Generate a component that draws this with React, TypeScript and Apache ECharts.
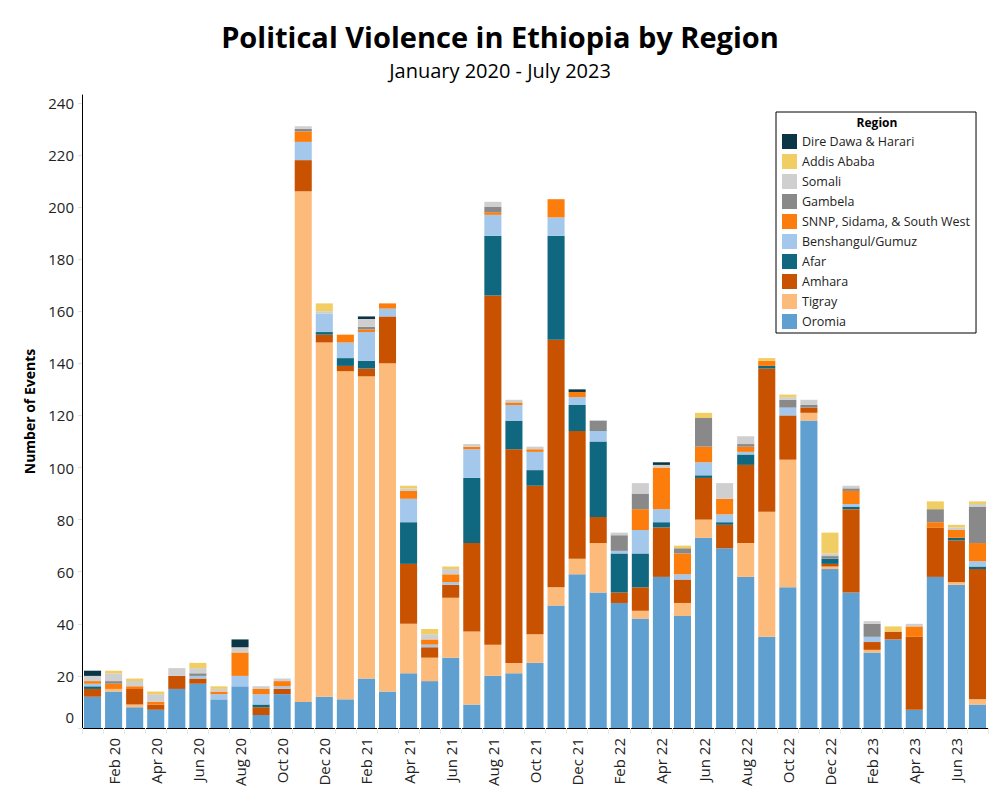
import React, { useEffect, useRef } from "react";
import * as echarts from "echarts";

const months = [
  "Jan 20","Feb 20","Mar 20","Apr 20","May 20","Jun 20","Jul 20","Aug 20","Sep 20","Oct 20","Nov 20","Dec 20",
  "Jan 21","Feb 21","Mar 21","Apr 21","May 21","Jun 21","Jul 21","Aug 21","Sep 21","Oct 21","Nov 21","Dec 21",
  "Jan 22","Feb 22","Mar 22","Apr 22","May 22","Jun 22","Jul 22","Aug 22","Sep 22","Oct 22","Nov 22","Dec 22",
  "Jan 23","Feb 23","Mar 23","Apr 23","May 23","Jun 23","Jul 23",
];

const oromia = [12,14,8,7,15,17,11,16,5,13,10,12,11,19,14,21,18,27,9,20,21,25,47,59,52,48,42,58,43,73,69,58,35,54,118,61,52,29,34,7,58,55,9];
const tigray = [0,1,1,0,0,0,0,0,0,0,196,136,126,116,126,19,9,23,28,12,4,11,7,6,19,0,3,0,5,7,0,13,48,49,3,1,0,1,0,0,0,1,2];
const amhara = [3,0,6,2,5,2,0,0,3,2,12,3,2,3,18,23,4,5,34,134,82,57,95,49,10,4,9,19,9,16,9,30,55,17,2,1,32,3,3,28,19,16,50];
const afar = [1,0,0,0,0,0,0,0,1,0,0,1,3,3,0,16,0,0,25,23,11,6,40,10,29,15,13,2,0,1,1,4,1,0,0,2,1,0,0,0,0,1,1];
const benshangul = [1,0,0,0,0,1,2,4,4,1,7,7,6,11,3,9,1,1,11,8,6,7,7,3,4,1,9,5,2,5,3,1,0,3,0,0,1,2,0,0,0,0,2];
const snnp = [1,2,1,1,0,0,1,9,2,2,4,0,3,1,2,3,2,3,1,1,1,1,7,2,0,0,8,16,8,6,6,2,2,0,0,0,5,0,0,4,2,3,7];
const gambela = [0,1,0,0,0,1,0,0,0,0,1,0,0,1,0,0,0,0,0,2,0,0,0,0,4,6,6,0,2,11,0,1,0,3,1,1,1,5,0,0,5,0,14];
const somali = [2,3,2,3,3,2,1,2,1,1,1,1,0,3,0,1,2,2,1,2,1,1,0,0,0,1,4,1,0,0,6,3,0,1,2,1,1,1,0,1,0,1,1];
const addis = [0,1,1,1,0,2,1,0,0,0,0,3,0,0,0,1,2,1,0,0,0,0,0,0,0,0,0,0,1,2,0,0,1,1,0,8,0,0,2,0,3,1,1];
const direDawa = [2,0,0,0,0,0,0,3,0,0,0,0,0,1,0,0,0,0,0,0,0,0,0,1,0,0,0,1,0,0,0,0,0,0,0,0,0,0,0,0,0,0,0];

const seriesNames = [
  "Oromia","Tigray","Amhara","Afar","Benshangul/Gumuz",
  "SNNP, Sidama, & South West","Gambela","Somali","Addis Ababa","Dire Dawa & Harari",
];
const seriesData = [oromia, tigray, amhara, afar, benshangul, snnp, gambela, somali, addis, direDawa];
const seriesColors = [
  "#5fa0d1","#fdbb7b","#c85200","#0f6880","#a3c8ec",
  "#fc7d0b","#898989","#cfcfcf","#f1ce63","#0b3546",
];

const FONT = "'Open Sans', 'Noto Sans', sans-serif";

export default function App() {
  const ref = useRef<HTMLDivElement>(null);
  useEffect(() => {
    if (!ref.current) return;
    const chart = echarts.init(ref.current, null, { renderer: "svg" });
    chart.setOption({
      animation: false,
      backgroundColor: "#ffffff",
      title: {
        text: "Political Violence in Ethiopia by Region",
        subtext: "January 2020 - July 2023",
        left: "center",
        top: 17,
        itemGap: 9,
        textStyle: { fontFamily: FONT, fontSize: 29, fontWeight: "bold", color: "#000" },
        subtextStyle: { fontFamily: FONT, fontSize: 20, color: "#000" },
      },
      legend: {
        orient: "vertical",
        left: 776,
        top: 112,
        data: [...seriesNames].reverse(),
        icon: "rect",
        itemWidth: 15,
        itemHeight: 15,
        itemGap: 5,
        borderColor: "#000",
        borderWidth: 1,
        padding: [22, 6, 4, 6],
        textStyle: { fontFamily: FONT, fontSize: 12.5, color: "#222" },
      },
      graphic: [
        {
          type: "text",
          x: 877,
          y: 122,
          style: {
            text: "Region",
            fontFamily: FONT,
            fontSize: 12,
            fontWeight: "bold",
            fill: "#000",
            textAlign: "center",
            textVerticalAlign: "middle",
          },
        },
      ],
      grid: { left: 82, right: 12, top: 95, bottom: 72 },
      xAxis: {
        type: "category",
        data: months,
        axisLine: { lineStyle: { color: "#000", width: 1 } },
        axisTick: { show: true, interval: 0, length: 6, lineStyle: { color: "#e6e6e6" } },
        axisLabel: {
          rotate: 90,
          interval: (i: number) => i % 2 === 1,
          fontFamily: FONT,
          fontSize: 15,
          color: "#222",
          margin: 10,
        },
      },
      yAxis: {
        type: "value",
        min: 0,
        max: 243,
        interval: 20,
        name: "Number of Events",
        nameLocation: "middle",
        nameGap: 46,
        nameTextStyle: { fontFamily: FONT, fontSize: 14, fontWeight: "bold", color: "#000" },
        axisLine: { show: true, lineStyle: { color: "#000", width: 1 } },
        axisTick: { show: true, length: 4, lineStyle: { color: "#e0e0e0" } },
        splitLine: { show: false },
        axisLabel: {
          fontFamily: FONT,
          fontSize: 15,
          color: "#222",
          showMaxLabel: false,
          margin: 8,
          formatter: (v: number) => (v === 0 ? "{z|0}" : String(v)),
          rich: {
            z: { fontFamily: FONT, fontSize: 15, color: "#222", padding: [0, 0, 22, 0] },
          },
        },
      },
      series: seriesNames.map((name, i) => ({
        name,
        type: "bar",
        stack: "total",
        barCategoryGap: "19%",
        data: seriesData[i],
        itemStyle: { color: seriesColors[i] },
      })),
    });
    return () => chart.dispose();
  }, []);
  return (
    <div
      ref={ref}
      style={{ position: "absolute", left: 0, top: 0, width: 1000, height: 800 }}
    />
  );
}
